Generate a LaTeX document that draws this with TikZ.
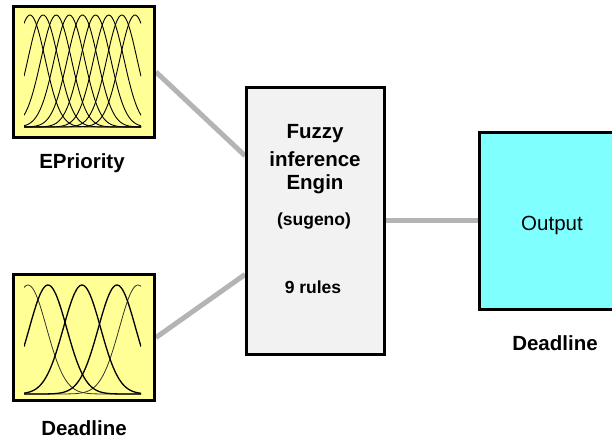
\documentclass[tikz,border=0pt]{standalone}
\usepackage{fontspec}
\setmainfont{Liberation Sans}
\usetikzlibrary{calc,backgrounds}
\definecolor{mfyellow}{RGB}{255,255,150}
\definecolor{fisgray}{RGB}{242,242,242}
\definecolor{outcyan}{RGB}{128,255,255}
\definecolor{wire}{RGB}{180,180,180}
\begin{document}
\begin{tikzpicture}[x=1pt,y=-1pt,
  block/.style={draw=black, line width=3pt, rectangle, inner sep=0pt},
  mfbox/.style={block, fill=mfyellow, minimum width=141pt},
  wirestyle/.style={draw=wire, line width=5pt},
  caption/.style={font=\fontsize{20.5}{24}\selectfont\bfseries, inner sep=0pt},
  fistext/.style={font=\fontsize{20.5}{24}\selectfont\bfseries, inner sep=0pt},
  fissmall/.style={font=\fontsize{17.5}{21}\selectfont\bfseries, inner sep=0pt},
  mfthick/.style={line width=1.3pt, black},
  mfthin/.style={line width=0.8pt, black!80},
  mfcurve/.style={line width=0.9pt, black}]
\useasboundingbox (0,0) rectangle (612,442);
\clip (0,0) rectangle (612,442);

% input blocks
\node[mfbox, minimum height=131pt] (epri) at (84,72) {};
\node[mfbox, minimum height=126pt] (dline) at (84,337.5) {};
% inference engine
\node[block, fill=fisgray, minimum width=138pt, minimum height=267pt] (fis) at (315.5,220.5) {};
% output block (runs past the right edge)
\node[block, fill=outcyan, minimum width=145pt, minimum height=177pt] (out) at (552,220.5) {};
\node[font=\fontsize{20.5}{24}\selectfont, inner sep=0pt] (outtext) at ($(out.center)+(0,5)$) {Output};

% membership functions of EPriority
\begin{scope}
  \clip (24,13) rectangle (141,128);
  \foreach \c in {30,43.1,56.2,69.4,82.5,95.6,108.8,121.9,135} {
    \draw[mfcurve, domain=24:141, samples=70, smooth]
      plot (\x, {127 - 112*exp(-((\x-\c)^2)/460)});
  }
\end{scope}

% membership functions of Deadline
\begin{scope}
  \clip (24,283) rectangle (141,395);
  \foreach \c in {28,138} {
    \draw[mfthin, domain=24:141, samples=70, smooth]
      plot (\x, {394 - 109*exp(-((\x-\c)^2)/692)});
  }
  \foreach \c in {48,82,117} {
    \draw[mfthick, domain=24:141, samples=70, smooth]
      plot (\x, {394 - 109*exp(-((\x-\c)^2)/692)});
  }
\end{scope}

% captions
\node[caption] (epricap) at (82,163) {EPriority};
\node[caption] (dlinecap) at (84,428) {Deadline};
\node[caption] (outcap) at (555,343) {Deadline};

% engine description
\node[fistext] (t1) at (315,134) {Fuzzy};
\node[fistext] (t2) at (315,159) {inference};
\node[fistext] (t3) at (315,184) {Engin};
\node[fissmall] (t4) at (314,221) {(sugeno)};
\node[fissmall] (t5) at (313,287) {9 rules};

% connectors
\begin{scope}[on background layer]
  \draw[wirestyle] (epri.east) -- ($(fis.north west)!0.26!(fis.south west)$);
  \draw[wirestyle] (dline.east) -- ($(fis.north west)!0.70!(fis.south west)$);
  \draw[wirestyle] (fis.east) -- (out.west);
\end{scope}
\end{tikzpicture}
\end{document}
